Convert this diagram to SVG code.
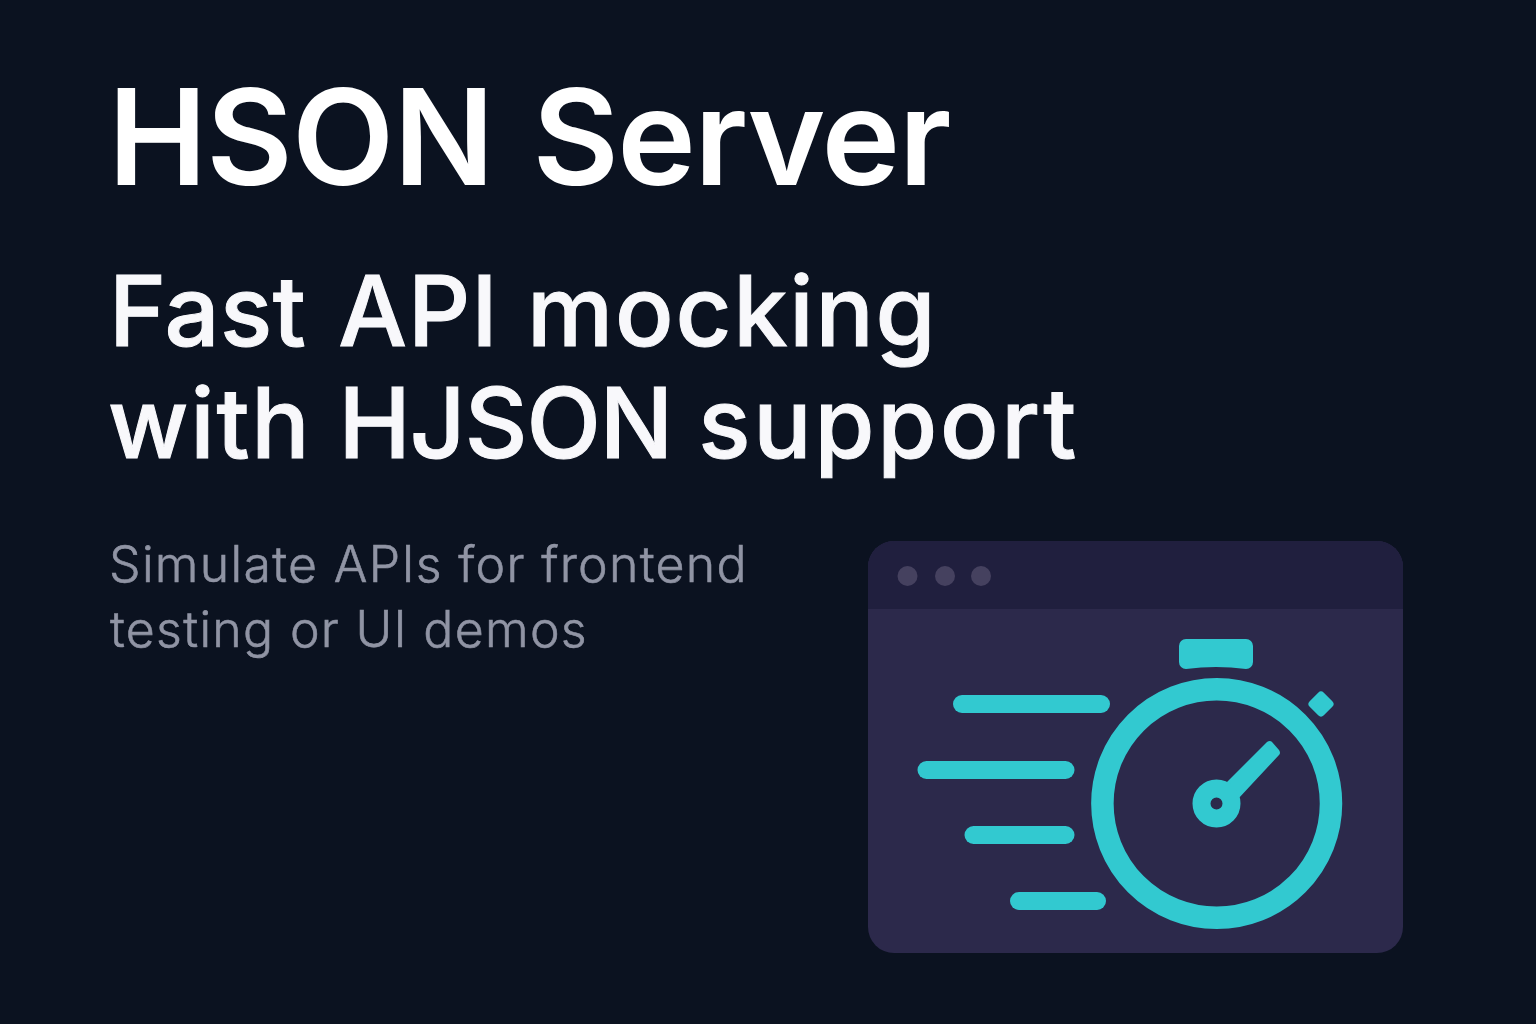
<svg xmlns="http://www.w3.org/2000/svg" width="1536" height="1024" viewBox="0 0 1536 1024">
<style>
text{font-family:Inter,"Noto Sans",sans-serif}
.t{fill:#fff;font-weight:600}
.h{font-size:97px;font-weight:500;fill:#f8f8fb;stroke:#f8f8fb;stroke-width:1px}
.s{fill:#9094a4;stroke:#9094a4;stroke-width:.6px;font-size:50px;font-weight:300;letter-spacing:1.3px}
.c{fill:#32c9d0}
.d{fill:#45415f}
</style>
<rect width="1536" height="1024" fill="#0b1220"/>
<text class="t" x="108" y="185" font-size="133" style="letter-spacing:-.8px">HSON <tspan dx="6" style="letter-spacing:-1.600px">Server</tspan></text>
<text class="t h" x="109" y="346" style="letter-spacing:.5px">Fast <tspan dx="5.500" style="letter-spacing:1px">API</tspan> <tspan dx="2" style="letter-spacing:1.800px">mocking</tspan></text>
<text class="t h" x="108" y="458"><tspan style="letter-spacing:1.800px">with</tspan> <tspan dx="1" style="letter-spacing:-.9px">HJSON</tspan> <tspan style="letter-spacing:2.800px">support</tspan></text>
<text class="s" x="109" y="582">Simulate APIs for frontend</text>
<text class="s" x="110" y="646.500">testing or UI demos</text>
<g id="window">
<rect x="868" y="541" width="535" height="412" rx="26" fill="#2c294b"/>
<path d="M868 609V567a26 26 0 0 1 26-26H1377a26 26 0 0 1 26 26V609Z" fill="#201f3e"/>
<circle class="d" cx="907.500" cy="576" r="10"/><circle class="d" cx="945" cy="576" r="10"/><circle class="d" cx="981" cy="576" r="10"/>
</g>
<g id="stopwatch">
<path class="c" d="M1179 646a7 7 0 0 1 7-7H1246a7 7 0 0 1 7 7V662a7 7 0 0 1-7 7Q1216 665 1186 669a7 7 0 0 1-7-7Z"/>
<circle cx="1216.700" cy="803.500" r="114.300" fill="none" stroke="#32c9d0" stroke-width="22.500"/>
<rect class="c" x="1311" y="694" width="20" height="20" rx="4" transform="rotate(45 1321 704)"/>
<path class="c" d="M1267 742Q1270 740 1272 742L1279 750Q1281 753 1279 755L1238 799L1225 784Z"/>
<circle cx="1216.500" cy="803.500" r="15" fill="#2c294b" stroke="#32c9d0" stroke-width="18"/>
</g>
<g id="speed-lines">
<rect class="c" x="953" y="695" width="157" height="18" rx="9"/>
<rect class="c" x="917.500" y="761" width="157" height="18" rx="9"/>
<rect class="c" x="964.500" y="826" width="110" height="18" rx="9"/>
<rect class="c" x="1010" y="892" width="96" height="18" rx="9"/>
</g>
</svg>
